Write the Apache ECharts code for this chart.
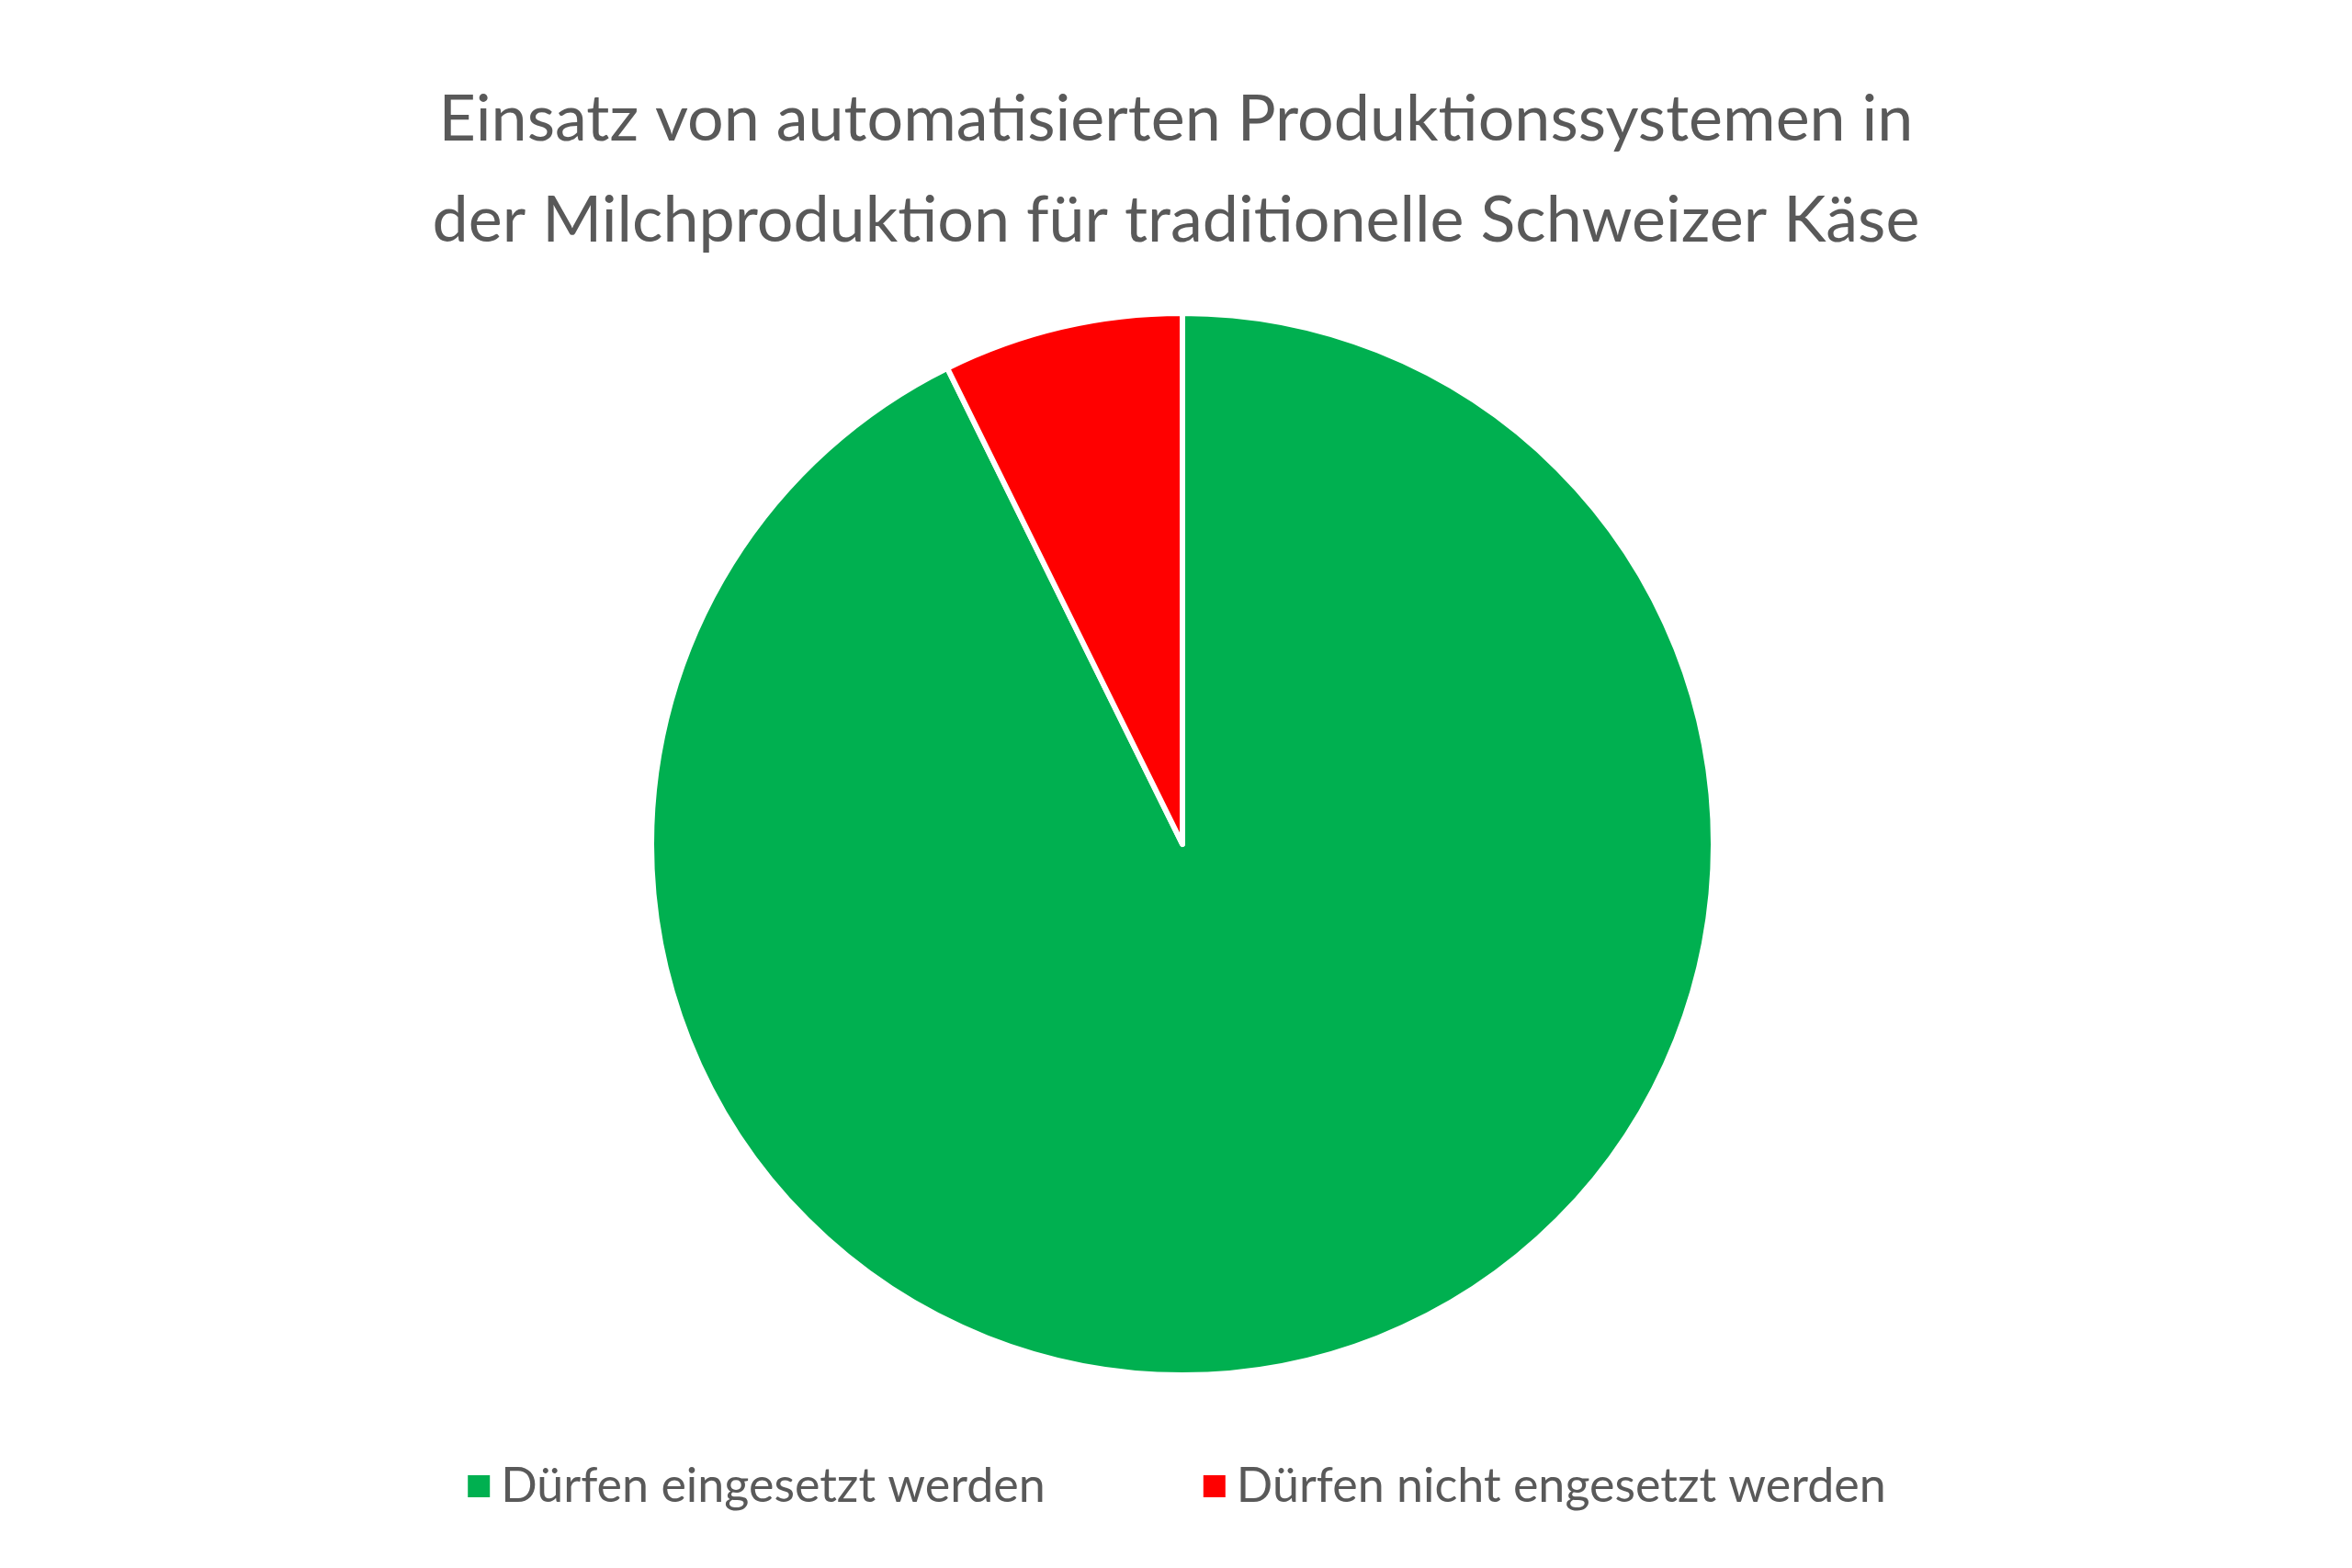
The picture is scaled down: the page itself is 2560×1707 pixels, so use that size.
<!DOCTYPE html>
<html><head><meta charset="utf-8">
<script src="https://cdn.jsdelivr.net/npm/echarts@6/dist/echarts.min.js"></script>
<style>html,body{margin:0;background:#fff}#c{width:2560px;height:1707px}</style>
</head><body><div id="c"></div>
<script>
const titleLines = ['Einsatz von automatisierten Produktionssystemen in','der Milchproduktion für traditionelle Schweizer Käse'];
const categories = ['Dürfen eingesetzt werden','Dürfen nicht engesetzt werden'];
const values = [92.7, 7.3];
const colors = ['#00B050','#FF0000'];
const chart = echarts.init(document.getElementById('c'));
chart.setOption({
  backgroundColor:'#fff',
  title:{text:titleLines.join('\n'),left:'center',top:70,
    textStyle:{fontFamily:'Lato',fontWeight:'normal',fontSize:70,lineHeight:110,color:'#595959'}},
  legend:{bottom:58,left:'center',itemWidth:26,itemHeight:26,itemGap:170,icon:'rect',
    textStyle:{fontFamily:'Lato',fontSize:52,color:'#595959',padding:[0,0,0,6]}},
  series:[{type:'pie',center:[1287,919],radius:578,startAngle:90,clockwise:true,
    label:{show:false},labelLine:{show:false},silent:true,
    itemStyle:{borderColor:'#fff',borderWidth:6},
    data:categories.map((n,i)=>({name:n,value:values[i],itemStyle:{color:colors[i]}}))}]
});
</script></body></html>
